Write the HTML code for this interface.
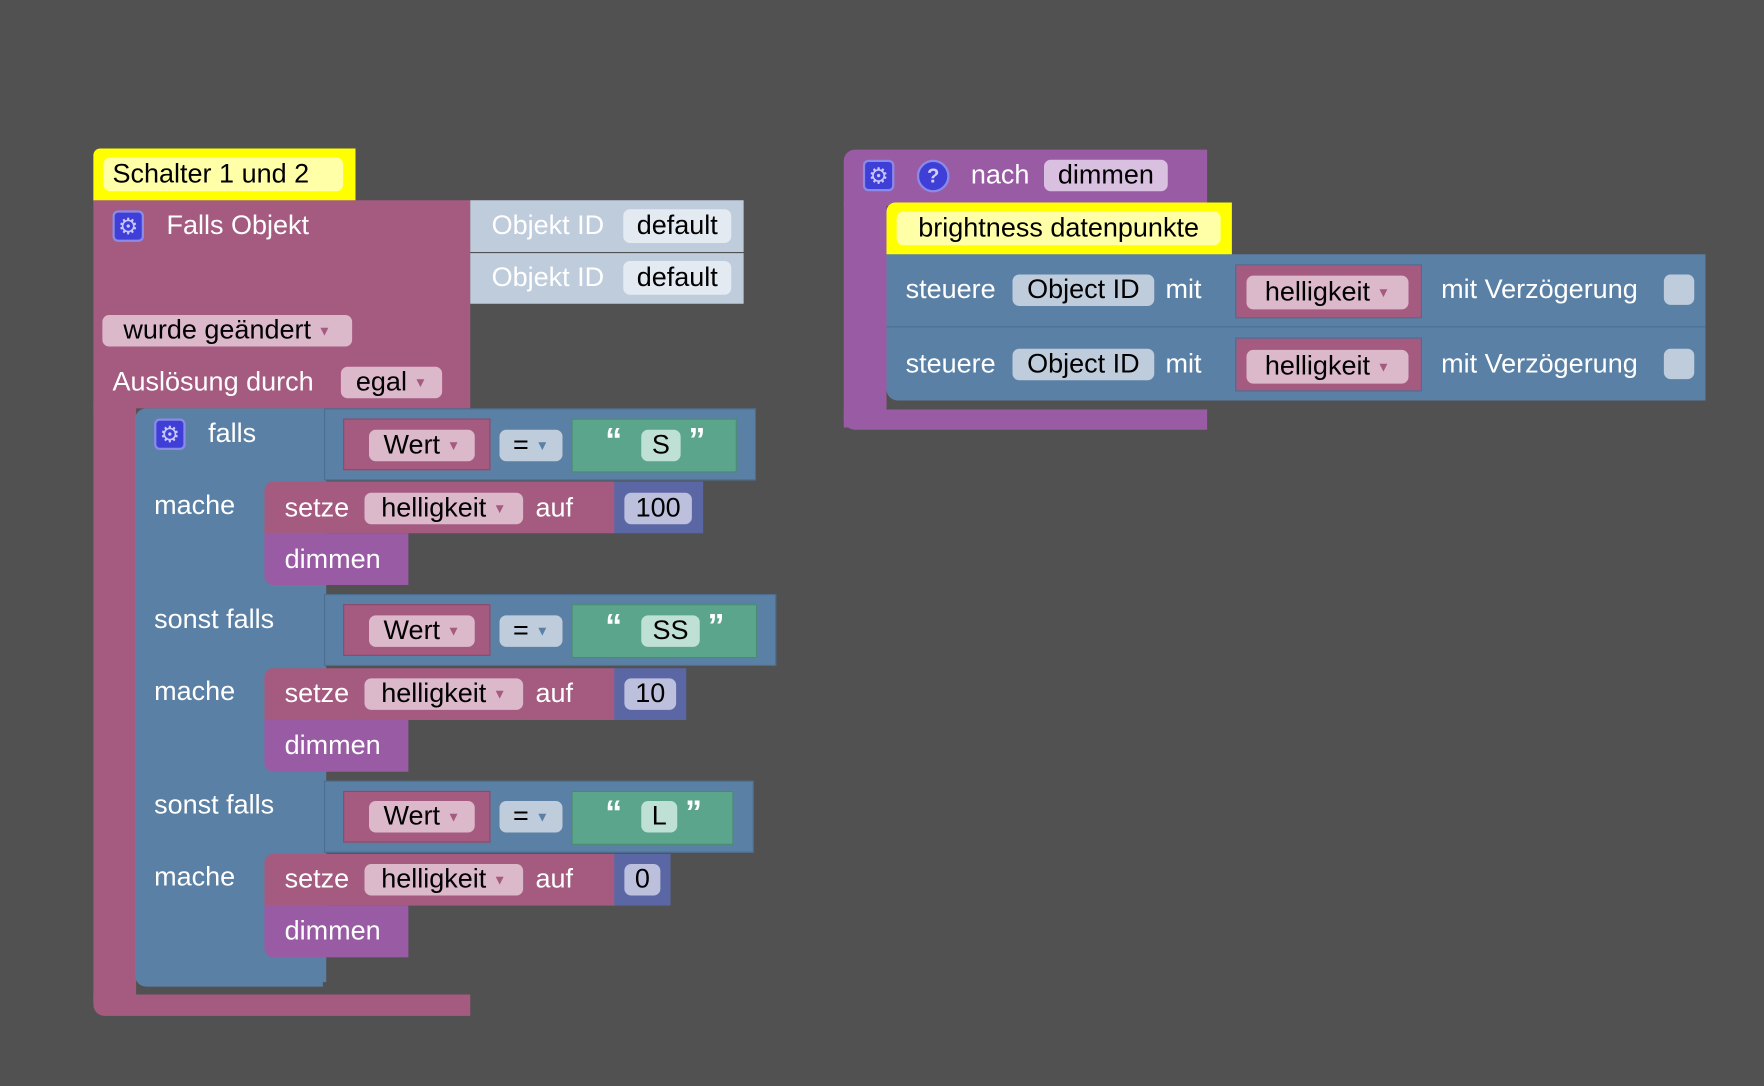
<!DOCTYPE html>
<html><head><meta charset="utf-8"><style>
html,body{margin:0;padding:0;background:#515151;width:1764px;height:1086px;overflow:hidden}
#w{position:absolute;left:0;top:0;width:1568px;height:965px;transform:scale(1.125);transform-origin:0 0;font-family:"Liberation Sans",sans-serif;font-size:24px}
#w div{position:absolute;box-sizing:border-box}
.f{display:flex;align-items:center;justify-content:center;border-radius:6px;color:#000;white-space:nowrap}
.t{color:#fff;white-space:nowrap;line-height:24px}
.tk{color:#000;white-space:nowrap;line-height:24px}
.mg{background:#a55b80}.bl{background:#5b80a5}.pu{background:#9a5ba5}.gr{background:#5ba58c}.nb{background:#5b67a5}
.gear{background:#3f3fd8;border:2px solid #8a8ae8;border-radius:5px;color:#c8c8ff;display:flex;align-items:center;justify-content:center;font-size:20px}
.arr{font-size:12px;margin-left:6px;color:#a55b80}
</style></head><body><div id="w">
<!-- LEFT -->
<div style="left:83px;top:132px;width:233px;height:47px;background:#ffff00;border-radius:6px 0 0 0"></div>
<div class="f" style="left:92px;top:140px;width:213px;height:30px;background:#ffffa8;justify-content:flex-start;padding-left:8px">Schalter 1 und 2</div>
<div class="mg" style="left:83px;top:178px;width:335px;height:185px"></div>
<div class="mg" style="left:83px;top:360px;width:38px;height:530px"></div>
<div class="mg" style="left:83px;top:884px;width:335px;height:19px;border-radius:0 0 0 10px"></div>
<div class="gear" style="left:100px;top:187px;width:28px;height:28px">⚙</div>
<div class="t" style="left:148px;top:189px">Falls Objekt</div>
<div style="left:418px;top:178px;width:243px;height:46px;background:#bfccdc"></div>
<div style="left:418px;top:225px;width:243px;height:45px;background:#bfccdc"></div>
<div class="t" style="left:437px;top:189px">Objekt ID</div>
<div class="t" style="left:437px;top:235px">Objekt ID</div>
<div class="f" style="left:554px;top:186px;width:96px;height:30px;background:#e4eaf2">default</div>
<div class="f" style="left:554px;top:232px;width:96px;height:30px;background:#e4eaf2">default</div>
<div class="f" style="left:91px;top:280px;width:222px;height:28px;background:#dcb8cb">wurde geändert<span class="arr">▼</span></div>
<div class="t" style="left:100px;top:328px">Auslösung durch</div>
<div class="f" style="left:303px;top:326px;width:90px;height:28px;background:#dcb8cb">egal<span class="arr">▼</span></div>
<!-- if block -->
<div class="bl" style="left:120px;top:363px;width:170px;height:510px;border-radius:10px 0 0 10px"></div>
<div class="bl" style="left:120px;top:860px;width:167px;height:17px;border-radius:0 0 0 10px"></div>
<div class="gear" style="left:137px;top:372px;width:28px;height:28px">⚙</div>
<div class="t" style="left:185px;top:374px">falls</div>
<div class="t" style="left:137px;top:438px">mache</div>
<div class="t" style="left:137px;top:539px">sonst falls</div>
<div class="t" style="left:137px;top:603px">mache</div>
<div class="t" style="left:137px;top:704px">sonst falls</div>
<div class="t" style="left:137px;top:768px">mache</div>

<!-- row1 -->
<div class="bl" style="left:288px;top:363px;width:384px;height:64px;border:1px solid #4c6d8f"></div>
<div class="mg" style="left:305px;top:372px;width:131px;height:46px;border:1px solid #8a4a6a"></div>
<div class="f" style="left:328px;top:382px;width:94px;height:28px;background:#dcb8cb">Wert<span class="arr">▼</span></div>
<div class="f" style="left:444px;top:382px;width:56px;height:28px;background:#bfccdc">=<span class="arr" style="color:#5b80a5">▼</span></div>
<div class="gr" style="left:508px;top:372px;width:147px;height:48px;border:1px solid #4a8a74"></div>
<div class="t" style="left:538px;top:380px;font-weight:bold;font-size:30px">“</div>
<div class="f" style="left:570px;top:382px;width:35px;height:28px;background:#bfe0d4">S</div>
<div class="t" style="left:612px;top:380px;font-weight:bold;font-size:30px">”</div>
<div class="mg" style="left:235px;top:428px;width:312px;height:46px;border-radius:8px 0 0 0"></div>
<div class="t" style="left:253px;top:440px">setze</div>
<div class="f" style="left:324px;top:438px;width:141px;height:28px;background:#dcb8cb">helligkeit<span class="arr">▼</span></div>
<div class="t" style="left:476px;top:440px">auf</div>
<div class="nb" style="left:546px;top:428px;width:79px;height:46px"></div>
<div class="f" style="left:555px;top:438px;width:60px;height:28px;background:#bcc0dc">100</div>
<div class="pu" style="left:235px;top:474px;width:128px;height:46px;border-radius:0 0 0 8px"></div>
<div class="t" style="left:253px;top:486px">dimmen</div>
<!-- row2 -->
<div class="bl" style="left:288px;top:528px;width:402px;height:64px;border:1px solid #4c6d8f"></div>
<div class="mg" style="left:305px;top:537px;width:131px;height:46px;border:1px solid #8a4a6a"></div>
<div class="f" style="left:328px;top:547px;width:94px;height:28px;background:#dcb8cb">Wert<span class="arr">▼</span></div>
<div class="f" style="left:444px;top:547px;width:56px;height:28px;background:#bfccdc">=<span class="arr" style="color:#5b80a5">▼</span></div>
<div class="gr" style="left:508px;top:537px;width:165px;height:48px;border:1px solid #4a8a74"></div>
<div class="t" style="left:538px;top:545px;font-weight:bold;font-size:30px">“</div>
<div class="f" style="left:570px;top:547px;width:52px;height:28px;background:#bfe0d4">SS</div>
<div class="t" style="left:629px;top:545px;font-weight:bold;font-size:30px">”</div>
<div class="mg" style="left:235px;top:594px;width:312px;height:46px;border-radius:8px 0 0 0"></div>
<div class="t" style="left:253px;top:605px">setze</div>
<div class="f" style="left:324px;top:603px;width:141px;height:28px;background:#dcb8cb">helligkeit<span class="arr">▼</span></div>
<div class="t" style="left:476px;top:605px">auf</div>
<div class="nb" style="left:546px;top:594px;width:64px;height:46px"></div>
<div class="f" style="left:555px;top:603px;width:46px;height:28px;background:#bcc0dc">10</div>
<div class="pu" style="left:235px;top:640px;width:128px;height:46px;border-radius:0 0 0 8px"></div>
<div class="t" style="left:253px;top:651px">dimmen</div>
<!-- row3 -->
<div class="bl" style="left:288px;top:694px;width:382px;height:64px;border:1px solid #4c6d8f"></div>
<div class="mg" style="left:305px;top:703px;width:131px;height:46px;border:1px solid #8a4a6a"></div>
<div class="f" style="left:328px;top:712px;width:94px;height:28px;background:#dcb8cb">Wert<span class="arr">▼</span></div>
<div class="f" style="left:444px;top:712px;width:56px;height:28px;background:#bfccdc">=<span class="arr" style="color:#5b80a5">▼</span></div>
<div class="gr" style="left:508px;top:703px;width:144px;height:48px;border:1px solid #4a8a74"></div>
<div class="t" style="left:538px;top:711px;font-weight:bold;font-size:30px">“</div>
<div class="f" style="left:570px;top:712px;width:32px;height:28px;background:#bfe0d4">L</div>
<div class="t" style="left:609px;top:711px;font-weight:bold;font-size:30px">”</div>
<div class="mg" style="left:235px;top:759px;width:312px;height:46px;border-radius:8px 0 0 0"></div>
<div class="t" style="left:253px;top:770px">setze</div>
<div class="f" style="left:324px;top:768px;width:141px;height:28px;background:#dcb8cb">helligkeit<span class="arr">▼</span></div>
<div class="t" style="left:476px;top:770px">auf</div>
<div class="nb" style="left:546px;top:759px;width:50px;height:46px"></div>
<div class="f" style="left:555px;top:768px;width:32px;height:28px;background:#bcc0dc">0</div>
<div class="pu" style="left:235px;top:805px;width:128px;height:46px;border-radius:0 0 0 8px"></div>
<div class="t" style="left:253px;top:816px">dimmen</div>

<!-- RIGHT -->
<div class="pu" style="left:750px;top:133px;width:323px;height:50px;border-radius:10px 0 0 0"></div>
<div class="pu" style="left:750px;top:180px;width:38px;height:200px"></div>
<div class="pu" style="left:750px;top:364px;width:323px;height:18px;border-radius:0 0 0 10px"></div>
<div class="gear" style="left:767px;top:142px;width:28px;height:28px">⚙</div>
<div style="left:815px;top:142px;width:29px;height:29px;border-radius:50%;background:#3f3fd8;border:2px solid #8a8ae8;color:#d0d0ff;font-size:18px;font-weight:bold;display:flex;align-items:center;justify-content:center">?</div>
<div class="t" style="left:863px;top:144px">nach</div>
<div class="f" style="left:928px;top:142px;width:110px;height:28px;background:#d9bfe0">dimmen</div>
<div style="left:788px;top:180px;width:307px;height:47px;background:#ffff00;border-radius:8px 0 0 0"></div>
<div class="f" style="left:797px;top:188px;width:288px;height:30px;background:#ffffa8">brightness datenpunkte</div>
<div class="bl" style="left:788px;top:226px;width:728px;height:65px;border-bottom:1px solid #4c6d8f"></div>
<div class="bl" style="left:788px;top:291px;width:728px;height:65px;border-radius:0 0 0 10px"></div>
<div class="t" style="left:805px;top:246px">steuere</div>
<div class="t" style="left:805px;top:312px">steuere</div>
<div class="f" style="left:900px;top:244px;width:126px;height:28px;background:#bfccdc">Object ID</div>
<div class="f" style="left:900px;top:310px;width:126px;height:28px;background:#bfccdc">Object ID</div>
<div class="t" style="left:1036px;top:246px">mit</div>
<div class="t" style="left:1036px;top:312px">mit</div>
<div class="mg" style="left:1098px;top:235px;width:166px;height:48px;border:1px solid #4c6d8f"></div>
<div class="mg" style="left:1098px;top:300px;width:166px;height:48px;border:1px solid #4c6d8f"></div>
<div class="f" style="left:1108px;top:245px;width:144px;height:30px;background:#dcb8cb">helligkeit<span class="arr">▼</span></div>
<div class="f" style="left:1108px;top:311px;width:144px;height:30px;background:#dcb8cb">helligkeit<span class="arr">▼</span></div>
<div class="t" style="left:1281px;top:246px">mit Verzögerung</div>
<div class="t" style="left:1281px;top:312px">mit Verzögerung</div>
<div style="left:1479px;top:244px;width:27px;height:27px;border-radius:6px;background:#bfccdc"></div>
<div style="left:1479px;top:310px;width:27px;height:27px;border-radius:6px;background:#bfccdc"></div>
</div></body></html>
